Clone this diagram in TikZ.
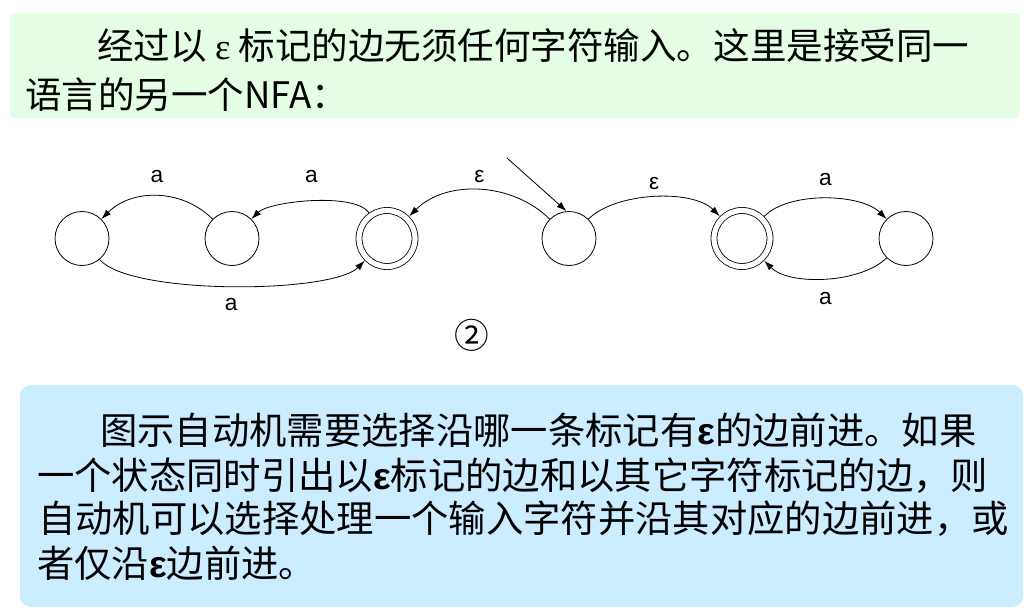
\documentclass[tikz,border=0pt]{standalone}
\usepackage{fontspec}
\setmainfont{Liberation Sans}
\newfontfamily\cjk{Noto Sans CJK SC}
\newfontfamily\lserif{Liberation Serif}
\newfontfamily\lsans{Liberation Sans}
\usetikzlibrary{positioning}
\usetikzlibrary{arrows.meta,automata}
\definecolor{topgreen}{RGB}{228,253,228}
\definecolor{boxblue}{RGB}{204,236,255}
\tikzset{main node/.style={circle,draw,minimum size=40.5pt,inner sep=0pt,line width=0.6pt},
  final node/.style={main node,double,double distance=3.9pt,minimum size=42pt,outer sep=2.6pt},
  lbl/.style={font=\fontsize{17}{17}\selectfont,inner sep=3pt},
  text line/.style={anchor=west,inner sep=0pt,font=\cjk\fontsize{28}{28}\selectfont},
  >={Latex[length=7.5pt,width=5pt]} }

\begin{document}
\begin{tikzpicture}[x=0.75pt,y=-0.75pt]
\useasboundingbox (0,0) rectangle (1029,611);

  % the two text boxes
  \fill[topgreen,rounded corners=3pt] (10,13) rectangle (1020,118);
  \fill[boxblue,rounded corners=8pt] (20,385) rectangle (1023,607);

  \node[text line,font=\cjk\fontsize{27.4}{27.4}\selectfont] (t1) at (97,46) {经过以 {\lserif ε} 标记的边无须任何字符输入。这里是接受同一};
  \node[text line,font=\cjk\fontsize{27.4}{27.4}\selectfont] (t2) at (25,95) {语言的另一个NFA：};

  \node[text line] (b1) at (100,430) {图示自动机需要选择沿哪一条标记有{\lsans\bfseries ε}的边前进。如果};
  \node[text line] (b2) at (37,476) {一个状态同时引出以{\lsans\bfseries ε}标记的边和以其它字符标记的边，则};
  \node[text line] (b3) at (38,519) {自动机可以选择处理一个输入字符并沿其对应的边前进，或};
  \node[text line] (b4) at (37,563) {者仅沿{\lsans\bfseries ε}边前进。};

\begin{scope}[on grid]

  \node[main node] (q1) at (82,238.5) {};
  \node[main node] (q2) [right=112.5pt of q1] {};
  \node[final node] (q3) [right=116.25pt of q2] {};
  \node[main node] (q4) [right=136.5pt of q3] {};
  \node[final node] (q5) [right=129.75pt of q4] {};
  \node[main node] (q6) [right=123pt of q5] {};

  \coordinate (start) at (507,158);

    \path[line width=0.6pt,every node/.style={lbl}]

    (q2) edge [->,out=135,in=45] node[above=6.5pt] {a} (q1)
    (q3) edge [->,out=125,in=45,looseness=0.55] node[above=10.5pt] {a} (q2)
    (q1) edge [->,out=-50,in=-135,looseness=0.45] node[below=6pt] {a} (q3)
    (q4) edge [->,out=135,in=45,looseness=0.95] node[above=2.5pt] {ε} (q3)
    (q4) edge [->,out=45,in=135,looseness=0.75] node[above=2.7pt] {ε} (q5)
    (q5) edge [->,out=45,in=135,looseness=0.75] node[above=6.5pt] {a} (q6)
    (q6) edge [->,out=-135,in=-45,looseness=0.75] node[below=7.5pt] {a} (q5)
    ;
     \draw [->,line width=0.6pt] (start) -- (q4.95);
    \end{scope}

  \node[font=\cjk\fontsize{26}{26}\selectfont] (num) at (472,335) {②};
\end{tikzpicture}
\end{document}
